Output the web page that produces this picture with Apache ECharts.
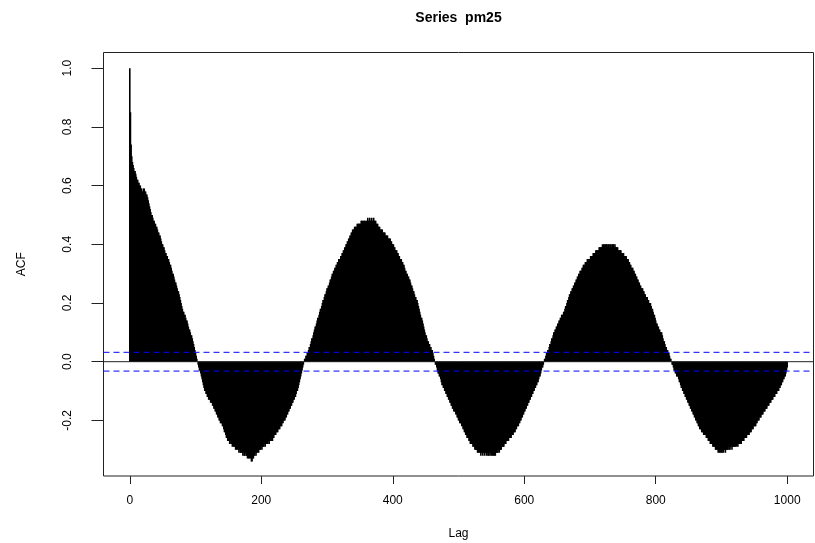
<!DOCTYPE html>
<html>
<head>
<meta charset="utf-8">
<script src="https://cdn.jsdelivr.net/npm/echarts@6/dist/echarts.min.js"></script>
<style>
html,body{margin:0;padding:0;background:#fff;}
#chart{width:815px;height:543px;}
</style>
</head>
<body>
<div id="chart"></div>
<script>
// ACF values for lags 0..1000
const acfValues = [
1.00,0.85,0.74,0.70,0.68,0.67,0.66,0.65,0.65,0.64,
0.63,0.62,0.62,0.61,0.61,0.60,0.60,0.59,0.59,0.58,
0.58,0.59,0.59,0.58,0.58,0.57,0.57,0.56,0.55,0.54,
0.53,0.52,0.51,0.50,0.50,0.49,0.48,0.48,0.47,0.47,
0.46,0.46,0.45,0.44,0.44,0.43,0.43,0.42,0.41,0.40,
0.40,0.39,0.39,0.38,0.37,0.37,0.36,0.36,0.35,0.35,
0.34,0.33,0.33,0.32,0.31,0.30,0.30,0.29,0.28,0.27,
0.27,0.26,0.25,0.24,0.24,0.23,0.22,0.21,0.20,0.19,
0.18,0.17,0.17,0.16,0.16,0.15,0.14,0.14,0.13,0.12,
0.11,0.11,0.10,0.09,0.09,0.08,0.07,0.06,0.05,0.04,
0.03,0.02,0.01,0.00,-0.01,-0.02,-0.03,-0.03,-0.04,-0.05,
-0.06,-0.07,-0.08,-0.09,-0.10,-0.10,-0.11,-0.11,-0.12,-0.12,
-0.13,-0.13,-0.13,-0.14,-0.14,-0.14,-0.15,-0.15,-0.16,-0.16,
-0.17,-0.17,-0.18,-0.18,-0.19,-0.19,-0.20,-0.20,-0.21,-0.21,
-0.21,-0.22,-0.22,-0.23,-0.24,-0.24,-0.25,-0.26,-0.26,-0.27,
-0.27,-0.27,-0.28,-0.27,-0.28,-0.28,-0.29,-0.28,-0.29,-0.29,
-0.29,-0.30,-0.30,-0.29,-0.30,-0.30,-0.31,-0.30,-0.31,-0.31,
-0.31,-0.31,-0.32,-0.31,-0.32,-0.32,-0.31,-0.32,-0.32,-0.33,
-0.32,-0.33,-0.33,-0.32,-0.33,-0.34,-0.34,-0.33,-0.33,-0.32,
-0.32,-0.31,-0.32,-0.31,-0.31,-0.30,-0.31,-0.30,-0.30,-0.30,
-0.29,-0.30,-0.29,-0.29,-0.29,-0.28,-0.29,-0.28,-0.28,-0.28,
-0.28,-0.27,-0.28,-0.27,-0.27,-0.27,-0.26,-0.27,-0.26,-0.26,
-0.25,-0.25,-0.25,-0.24,-0.24,-0.24,-0.23,-0.23,-0.23,-0.22,
-0.22,-0.22,-0.21,-0.21,-0.20,-0.20,-0.20,-0.19,-0.19,-0.18,
-0.18,-0.17,-0.17,-0.16,-0.16,-0.15,-0.15,-0.14,-0.14,-0.13,
-0.13,-0.12,-0.12,-0.11,-0.10,-0.10,-0.09,-0.08,-0.07,-0.06,
-0.05,-0.04,-0.03,-0.02,-0.01,0.00,0.01,0.01,0.02,0.02,
0.03,0.03,0.04,0.05,0.05,0.06,0.07,0.08,0.08,0.09,
0.10,0.11,0.12,0.12,0.13,0.14,0.15,0.15,0.16,0.17,
0.18,0.18,0.19,0.20,0.21,0.21,0.22,0.23,0.23,0.24,
0.25,0.25,0.26,0.26,0.27,0.28,0.28,0.29,0.30,0.30,
0.31,0.31,0.32,0.32,0.33,0.33,0.34,0.34,0.35,0.35,
0.35,0.36,0.36,0.37,0.37,0.38,0.38,0.39,0.39,0.40,
0.40,0.41,0.41,0.42,0.42,0.43,0.43,0.44,0.44,0.45,
0.45,0.45,0.46,0.46,0.46,0.46,0.47,0.47,0.47,0.47,
0.47,0.47,0.48,0.48,0.48,0.47,0.48,0.48,0.48,0.47,
0.48,0.48,0.49,0.48,0.48,0.49,0.48,0.48,0.49,0.48,
0.48,0.49,0.48,0.48,0.48,0.47,0.47,0.47,0.46,0.46,
0.46,0.45,0.45,0.45,0.45,0.44,0.44,0.44,0.44,0.43,
0.43,0.43,0.43,0.42,0.42,0.42,0.42,0.41,0.41,0.40,
0.40,0.40,0.39,0.39,0.38,0.38,0.38,0.37,0.37,0.36,
0.36,0.35,0.35,0.35,0.34,0.34,0.33,0.33,0.32,0.31,
0.31,0.30,0.30,0.29,0.29,0.28,0.28,0.27,0.26,0.26,
0.25,0.24,0.24,0.23,0.22,0.22,0.21,0.21,0.20,0.19,
0.18,0.17,0.16,0.15,0.15,0.14,0.13,0.12,0.11,0.10,
0.09,0.09,0.08,0.07,0.07,0.06,0.06,0.05,0.05,0.04,
0.04,0.03,0.02,0.01,0.00,-0.01,-0.01,-0.02,-0.03,-0.04,
-0.04,-0.05,-0.05,-0.06,-0.07,-0.08,-0.08,-0.09,-0.09,-0.10,
-0.10,-0.11,-0.11,-0.12,-0.12,-0.13,-0.13,-0.14,-0.14,-0.15,
-0.15,-0.16,-0.16,-0.17,-0.17,-0.17,-0.18,-0.18,-0.19,-0.19,
-0.20,-0.20,-0.21,-0.21,-0.21,-0.22,-0.22,-0.23,-0.23,-0.24,
-0.24,-0.25,-0.25,-0.26,-0.26,-0.26,-0.27,-0.27,-0.28,-0.28,
-0.28,-0.28,-0.29,-0.29,-0.29,-0.30,-0.30,-0.30,-0.30,-0.31,
-0.31,-0.30,-0.31,-0.31,-0.32,-0.31,-0.31,-0.32,-0.31,-0.31,
-0.32,-0.31,-0.31,-0.32,-0.31,-0.32,-0.32,-0.31,-0.32,-0.31,
-0.32,-0.31,-0.32,-0.32,-0.31,-0.32,-0.32,-0.31,-0.31,-0.31,
-0.31,-0.30,-0.31,-0.30,-0.30,-0.30,-0.29,-0.29,-0.29,-0.29,
-0.28,-0.28,-0.28,-0.27,-0.27,-0.27,-0.27,-0.26,-0.26,-0.26,
-0.26,-0.25,-0.25,-0.25,-0.24,-0.24,-0.24,-0.23,-0.23,-0.22,
-0.22,-0.22,-0.21,-0.21,-0.20,-0.20,-0.19,-0.19,-0.18,-0.18,
-0.17,-0.17,-0.16,-0.16,-0.15,-0.15,-0.14,-0.14,-0.13,-0.13,
-0.12,-0.12,-0.11,-0.11,-0.10,-0.10,-0.09,-0.09,-0.08,-0.08,
-0.07,-0.07,-0.06,-0.05,-0.05,-0.04,-0.03,-0.02,-0.02,-0.01,
0.00,0.01,0.01,0.02,0.03,0.03,0.04,0.04,0.05,0.06,
0.06,0.07,0.08,0.08,0.09,0.10,0.10,0.11,0.11,0.12,
0.12,0.13,0.13,0.14,0.14,0.15,0.15,0.16,0.16,0.16,
0.17,0.17,0.18,0.19,0.19,0.20,0.21,0.21,0.22,0.23,
0.23,0.24,0.24,0.25,0.25,0.26,0.26,0.27,0.27,0.28,
0.28,0.29,0.29,0.30,0.30,0.31,0.31,0.31,0.32,0.32,
0.33,0.33,0.33,0.34,0.34,0.34,0.35,0.35,0.35,0.35,
0.35,0.36,0.36,0.36,0.36,0.37,0.37,0.37,0.37,0.38,
0.38,0.38,0.38,0.38,0.39,0.39,0.39,0.39,0.39,0.40,
0.39,0.40,0.40,0.39,0.40,0.40,0.40,0.39,0.40,0.40,
0.39,0.40,0.40,0.39,0.40,0.40,0.40,0.39,0.40,0.39,
0.39,0.39,0.39,0.38,0.38,0.38,0.38,0.38,0.37,0.37,
0.37,0.37,0.36,0.36,0.36,0.36,0.35,0.35,0.35,0.34,
0.34,0.33,0.33,0.32,0.32,0.32,0.31,0.31,0.30,0.30,
0.29,0.29,0.28,0.28,0.27,0.27,0.26,0.26,0.25,0.25,
0.25,0.24,0.24,0.23,0.23,0.22,0.22,0.22,0.21,0.21,
0.20,0.20,0.20,0.19,0.18,0.18,0.17,0.16,0.16,0.15,
0.14,0.13,0.13,0.12,0.12,0.11,0.11,0.10,0.10,0.10,
0.09,0.08,0.07,0.07,0.06,0.05,0.05,0.04,0.04,0.03,
0.03,0.02,0.01,0.01,0.00,-0.01,-0.01,-0.02,-0.03,-0.03,
-0.04,-0.04,-0.05,-0.05,-0.05,-0.06,-0.07,-0.07,-0.08,-0.09,
-0.09,-0.10,-0.10,-0.11,-0.11,-0.12,-0.12,-0.13,-0.13,-0.14,
-0.14,-0.15,-0.15,-0.16,-0.16,-0.17,-0.17,-0.18,-0.18,-0.19,
-0.19,-0.20,-0.20,-0.21,-0.21,-0.22,-0.22,-0.23,-0.23,-0.23,
-0.24,-0.24,-0.24,-0.25,-0.25,-0.25,-0.25,-0.26,-0.26,-0.26,
-0.27,-0.27,-0.27,-0.28,-0.28,-0.28,-0.28,-0.29,-0.29,-0.29,
-0.29,-0.30,-0.30,-0.30,-0.30,-0.31,-0.30,-0.31,-0.31,-0.30,
-0.31,-0.31,-0.30,-0.31,-0.30,-0.30,-0.31,-0.30,-0.30,-0.30,
-0.30,-0.29,-0.30,-0.30,-0.29,-0.29,-0.30,-0.29,-0.29,-0.29,
-0.29,-0.29,-0.28,-0.29,-0.28,-0.29,-0.28,-0.28,-0.28,-0.28,
-0.28,-0.27,-0.27,-0.27,-0.27,-0.26,-0.26,-0.26,-0.26,-0.25,
-0.25,-0.25,-0.25,-0.24,-0.24,-0.24,-0.23,-0.23,-0.23,-0.22,
-0.22,-0.22,-0.22,-0.21,-0.21,-0.20,-0.20,-0.20,-0.19,-0.19,
-0.19,-0.18,-0.18,-0.18,-0.17,-0.17,-0.17,-0.16,-0.16,-0.16,
-0.15,-0.15,-0.15,-0.14,-0.14,-0.14,-0.13,-0.13,-0.13,-0.12,
-0.12,-0.12,-0.11,-0.11,-0.11,-0.10,-0.10,-0.10,-0.09,-0.09,
-0.08,-0.08,-0.07,-0.07,-0.06,-0.06,-0.05,-0.05,-0.04,-0.03,
-0.02
];
const lags = acfValues.map((_, i) => i);

const xTicks = [0, 200, 400, 600, 800, 1000];
const yTicks = [-0.2, 0.0, 0.2, 0.4, 0.6, 0.8, 1.0];
const confLimit = 0.032;
const xRange = [-40, 1040];
const yRange = [-0.3894, 1.0534];

const FONT = 'Liberation Sans, Arial, Helvetica, sans-serif';

const barData = lags.map((l, i) => [l, acfValues[i]]);

const chart = echarts.init(document.getElementById('chart'), null, {renderer: 'canvas'});
chart.setOption({
  animation: false,
  backgroundColor: '#fff',
  title: {
    text: 'Series  pm25',
    left: 458.5,
    top: 11,
    textAlign: 'center',
    padding: 0,
    textStyle: {fontFamily: FONT, fontSize: 14, fontWeight: 'bold', color: '#000'}
  },
  grid: {
    left: 103.5, top: 52.5, right: 1.5, bottom: 67,
    show: true, borderColor: '#222', borderWidth: 1,
    containLabel: false, outerBoundsMode: 'none'
  },
  xAxis: {
    type: 'value',
    min: xRange[0], max: xRange[1],
    name: 'Lag', nameLocation: 'middle', nameGap: 52,
    nameTextStyle: {fontFamily: FONT, fontSize: 12, color: '#000'},
    axisLine: {show: false, onZero: false},
    splitLine: {show: false},
    axisTick: {show: true, inside: false, length: 8, lineStyle: {color: '#222'}, customValues: xTicks},
    axisLabel: {show: true, margin: 19, fontFamily: FONT, fontSize: 12, color: '#000',
      customValues: xTicks, formatter: v => String(v)}
  },
  yAxis: {
    type: 'value',
    min: yRange[0], max: yRange[1],
    name: 'ACF', nameLocation: 'middle', nameGap: 76, nameRotate: 90,
    nameTextStyle: {fontFamily: FONT, fontSize: 12, color: '#000'},
    axisLine: {show: false, onZero: false},
    splitLine: {show: false},
    axisTick: {show: true, inside: false, length: 12, lineStyle: {color: '#222'}, customValues: yTicks},
    axisLabel: {show: true, margin: 30, rotate: 90, fontFamily: FONT, fontSize: 12, color: '#000',
      customValues: yTicks, formatter: v => v.toFixed(1)}
  },
  series: [
    {
      type: 'custom',
      data: barData,
      clip: true,
      renderItem: function (params, api) {
        const l = api.value(0), v = api.value(1);
        const p0 = api.coord([l, 0]);
        const p1 = api.coord([l, v]);
        return {
          type: 'line',
          shape: {x1: p0[0], y1: p0[1], x2: p1[0], y2: p1[1]},
          style: {stroke: '#000', lineWidth: 1.6}
        };
      },
      z: 2
    },
    {
      type: 'line', data: [[xRange[0], 0], [xRange[1], 0]],
      symbol: 'none', lineStyle: {color: '#222', width: 1}, z: 3, silent: true
    },
    {
      type: 'line', data: [[xRange[0], confLimit], [xRange[1], confLimit]],
      symbol: 'none', lineStyle: {color: '#0000ff', width: 1, type: [6, 4]}, z: 4, silent: true
    },
    {
      type: 'line', data: [[xRange[0], -confLimit], [xRange[1], -confLimit]],
      symbol: 'none', lineStyle: {color: '#0000ff', width: 1, type: [6, 4]}, z: 4, silent: true
    }
  ]
});
</script>
</body>
</html>
